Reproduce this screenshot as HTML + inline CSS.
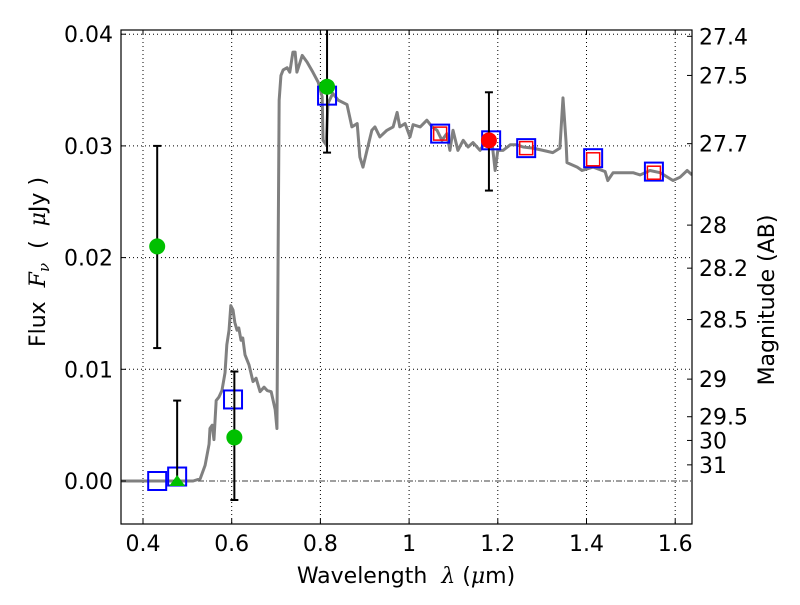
<!DOCTYPE html>
<html><head><meta charset="utf-8">
<style>body{margin:0;background:#fff}svg text{font-family:"DejaVu Sans","Liberation Sans",sans-serif;fill:#000;white-space:pre}</style>
</head><body>
<svg id="c" width="800" height="600" viewBox="0 0 800 600"></svg>
<script>
const specLam=[0.35,0.513,0.529,0.540,0.549,0.551,0.556,0.560,0.565,0.571,0.578,0.585,0.589,0.594,0.598,0.603,0.607,0.612,0.616,0.621,0.625,0.630,0.639,0.648,0.655,0.664,0.673,0.680,0.689,0.698,0.702,0.707,0.711,0.716,0.725,0.731,0.738,0.743,0.747,0.759,0.770,0.783,0.795,0.804,0.806,0.813,0.817,0.828,0.840,0.860,0.871,0.883,0.889,0.896,0.905,0.916,0.923,0.934,0.950,0.964,0.973,0.979,0.991,1.002,1.009,1.025,1.040,1.052,1.063,1.074,1.085,1.092,1.099,1.110,1.122,1.133,1.144,1.160,1.171,1.187,1.194,1.200,1.212,1.228,1.243,1.257,1.279,1.302,1.324,1.340,1.347,1.354,1.356,1.379,1.390,1.415,1.442,1.448,1.460,1.482,1.505,1.521,1.543,1.566,1.595,1.611,1.627,1.638];
const specFlux=[0,0,0.0002,0.0014,0.0033,0.0047,0.0050,0.0037,0.0072,0.0075,0.0081,0.0097,0.0122,0.0135,0.0157,0.0153,0.0142,0.0135,0.0137,0.0126,0.0128,0.0113,0.0104,0.0089,0.0092,0.0080,0.0084,0.0081,0.0080,0.0064,0.0047,0.0341,0.0363,0.0368,0.0370,0.0366,0.0384,0.0384,0.0366,0.0381,0.0375,0.0366,0.0357,0.0344,0.0305,0.0301,0.0338,0.0347,0.0341,0.0337,0.0317,0.0320,0.0290,0.0281,0.0296,0.0314,0.0317,0.0308,0.0314,0.0317,0.0330,0.0317,0.0320,0.0308,0.0319,0.0317,0.0323,0.0317,0.0314,0.0305,0.0311,0.0296,0.0314,0.0296,0.0305,0.0299,0.0303,0.0296,0.0303,0.0303,0.0278,0.0296,0.0296,0.0301,0.0301,0.0299,0.0298,0.0296,0.0294,0.0298,0.0343,0.0303,0.0285,0.0281,0.0278,0.0281,0.0277,0.0269,0.0276,0.0276,0.0276,0.0274,0.0278,0.0276,0.0269,0.0272,0.0278,0.0274];
const modelLam=[0.432,0.477,0.603,0.815,1.070,1.185,1.264,1.415,1.552];
const modelFlux=[0,0.0004,0.0073,0.0345,0.0311,0.0305,0.0298,0.0289,0.0277];
const synthLam=[1.070,1.264,1.415,1.552];
const synthFlux=[0.0311,0.0298,0.0288,0.0276];
const obsLam=[0.432,0.606,0.815];
const obsFlux=[0.0210,0.0039,0.0353];
const obsHi=[0.0300,0.0098,0.0412];
const obsLo=[0.0119,-0.0017,0.0294];
const limLam=[0.477];const limFlux=[0.0];const limHi=[0.0072];
const redLam=[1.18];const redFlux=[0.0305];const redHi=[0.0348];const redLo=[0.0260];
const xTicks=[0.4,0.6,0.8,1,1.2,1.4,1.6];
const xTickLabels=["0.4","0.6","0.8","1","1.2","1.4","1.6"];
const yTicks=[0,0.01,0.02,0.03,0.04];
const yTickLabels=["0.00","0.01","0.02","0.03","0.04"];
const magTicks=[27.4,27.5,27.7,28,28.2,28.5,29,29.5,30,31];

const L=121,R=692,T=30,B=524;
const X=v=>143+(v-0.4)*443.5;
const Y=v=>481-v*11170;
const magY=m=>Y(Math.pow(10,-(m-23.9)/2.5));
const svg=document.getElementById('c');const NS='http://www.w3.org/2000/svg';
function mk(t,a,p){const e=document.createElementNS(NS,t);for(const k in a)e.setAttribute(k,a[k]);(p||svg).appendChild(e);return e;}
const clip=mk('clipPath',{id:'cp'});mk('rect',{x:L,y:T,width:R-L,height:B-T},clip);
const g=mk('g',{'clip-path':'url(#cp)'});


xTicks.forEach(v=>{const l=mk('line',{x1:X(v),x2:X(v),y1:T,y2:B,stroke:'#000','stroke-width':1,'stroke-dasharray':'1,3'},g);

});
yTicks.forEach(v=>{if(v===0)return;const l=mk('line',{x1:L,x2:R,y1:Y(v),y2:Y(v),stroke:'#000','stroke-width':1,'stroke-dasharray':'1,3'},g);

});
const zl=mk('line',{x1:L,x2:R,y1:Y(0),y2:Y(0),stroke:'#000','stroke-width':0.8,'stroke-dasharray':'6,2,1,2'},g);


const sp=mk('polyline',{points:specLam.map((l,i)=>X(l)+','+Y(specFlux[i])).join(' '),fill:'none',stroke:'#808080','stroke-width':3,'stroke-linejoin':'round'},g);


function eb(x,hi,lo){const e=mk('g',{stroke:'#000','stroke-width':2},g);mk('line',{x1:x,x2:x,y1:Y(hi),y2:Y(lo)},e);mk('line',{x1:x-4,x2:x+4,y1:Y(hi),y2:Y(hi)},e);mk('line',{x1:x-4,x2:x+4,y1:Y(lo),y2:Y(lo)},e);return e;}
modelLam.forEach((l,i)=>{const r=mk('rect',{x:X(l)-9,y:Y(modelFlux[i])-9,width:18,height:18,fill:'none',stroke:'#0000ff','stroke-width':2},g);

});
synthLam.forEach((l,i)=>{const r=mk('rect',{x:X(l)-6.5,y:Y(synthFlux[i])-6.5,width:13,height:13,fill:'none',stroke:'#ff0000','stroke-width':1.5},g);

});
obsLam.forEach((l,i)=>{const e=eb(X(l),obsHi[i],obsLo[i]);


const c=mk('circle',{cx:X(l),cy:Y(obsFlux[i]),r:8,fill:'#00c000'},g);

});
limLam.forEach((l,i)=>{const x=X(l),y=Y(limFlux[i]);const e=eb(x,limHi[i],limFlux[i]);


const t=mk('polygon',{points:`${x-8},${y+5} ${x+8},${y+5} ${x},${y-6}`,fill:'#00c000'},g);

});
redLam.forEach((l,i)=>{const e=eb(X(l),redHi[i],redLo[i]);


const c=mk('circle',{cx:X(l),cy:Y(redFlux[i]),r:8,fill:'#ff0000'},g);

});
const fr=mk('rect',{x:L,y:T,width:R-L,height:B-T,fill:'none',stroke:'#000','stroke-width':1.2});


xTicks.forEach((v,i)=>{const x=X(v);mk('line',{x1:x,x2:x,y1:B,y2:B-5,stroke:'#000'});mk('line',{x1:x,x2:x,y1:T,y2:T+5,stroke:'#000'});
const t=mk('text',{x:x,y:B+27,'text-anchor':'middle','font-size':22});t.textContent=xTickLabels[i];

});
yTicks.forEach((v,i)=>{const y=Y(v);mk('line',{x1:L,x2:L+5,y1:y,y2:y,stroke:'#000'});
const t=mk('text',{x:L-8,y:y+8,'text-anchor':'end','font-size':22});t.textContent=yTickLabels[i];

});
magTicks.forEach(m=>{const y=magY(m);mk('line',{x1:R,x2:R-5,y1:y,y2:y,stroke:'#000'});
const t=mk('text',{x:R+7,y:y+8,'font-size':22});t.textContent=String(m);

});
const xl=mk('text',{x:406,y:583,'text-anchor':'middle','font-size':22});
xl.innerHTML='Wavelength  <tspan font-style="italic" font-family="DejaVu Serif">λ</tspan> (<tspan font-style="italic" font-family="DejaVu Serif">μ</tspan>m)';


const yl=mk('text',{x:0,y:0,'text-anchor':'middle','font-size':22,transform:'translate(45,262) rotate(-90)'});
yl.innerHTML='Flux  <tspan font-style="italic" font-family="DejaVu Serif">F</tspan><tspan font-style="italic" font-family="DejaVu Serif" font-size="15" dy="4">ν</tspan><tspan dy="-4">  (  </tspan><tspan font-style="italic" font-family="DejaVu Serif">μ</tspan>Jy )';


const ml=mk('text',{x:0,y:0,'text-anchor':'middle','font-size':22,transform:'translate(774,300) rotate(-90)'});
ml.textContent='Magnitude (AB)';


</script>
</body></html>
